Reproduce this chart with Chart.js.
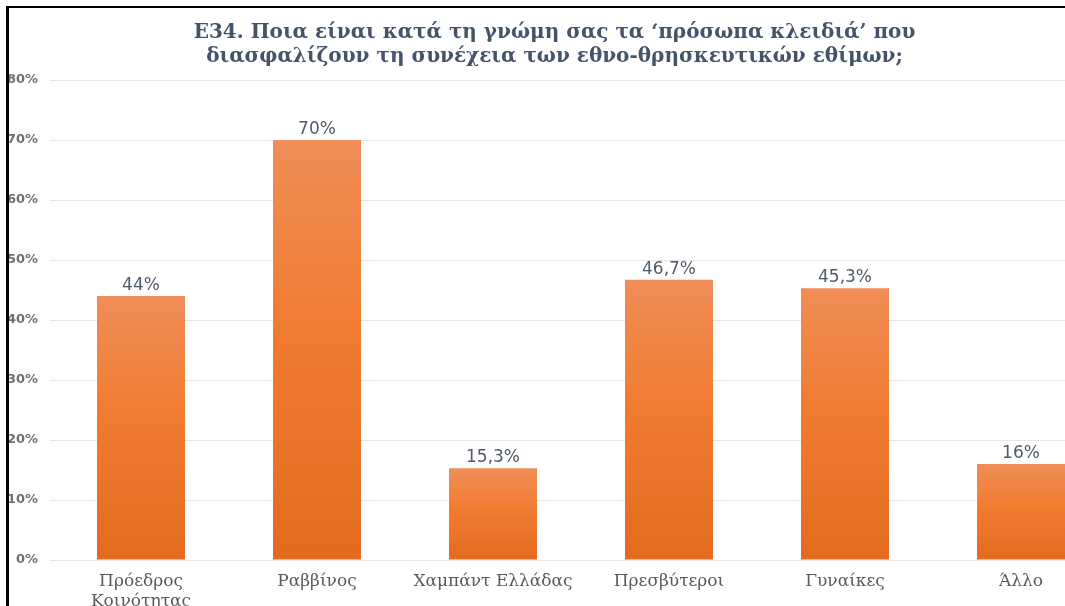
<!DOCTYPE html>
<html>
<head>
<meta charset="utf-8">
<script src="https://cdn.jsdelivr.net/npm/chart.js@4"></script>
<style>
  html, body { margin: 0; padding: 0; background: #fff; overflow: hidden; }
  #wrap { position: relative; width: 1065px; height: 606px; overflow: hidden; }
  #chart { position: absolute; left: 0; top: 0; }
  .line { position: absolute; background: #000; }
</style>
</head>
<body>
<div id="wrap">
  <canvas id="chart" width="1110" height="606"></canvas>
  <div class="line" style="left:6px; top:6px; width:1070px; height:2px;"></div>
  <div class="line" style="left:6px; top:6px; width:3px; height:600px;"></div>
</div>
<script>
// data
const titleLines = ['Ε34. Ποια είναι κατά τη γνώμη σας τα ‘πρόσωπα κλειδιά’ που',
                    'διασφαλίζουν τη συνέχεια των εθνο-θρησκευτικών εθίμων;'];
const categories = [['Πρόεδρος', 'Κοινότητας'], 'Ραββίνος', 'Χαμπάντ Ελλάδας', 'Πρεσβύτεροι', 'Γυναίκες', 'Άλλο'];
const values     = [44, 70, 15.3, 46.7, 45.3, 16];
const yTicks     = [0, 10, 20, 30, 40, 50, 60, 70, 80];

const fmt = v => String(v).replace('.', ',') + '%';

// per-bar vertical gradient, lighter at the top
function barFill(c) {
  const y = c.chart.scales.y;
  if (!c.chart.chartArea || !y || c.type !== 'data') return '#f07c30';
  const top = y.getPixelForValue(values[c.dataIndex]);
  const base = y.getPixelForValue(0);
  if (!isFinite(top) || !isFinite(base)) return '#f07c30';
  const g = c.chart.ctx.createLinearGradient(0, top, 0, base);
  g.addColorStop(0, '#f08d58');
  g.addColorStop(0.45, '#f07c30');
  g.addColorStop(1, '#e46b1e');
  return g;
}

// value labels above bars
const valueLabels = {
  id: 'valueLabels',
  afterDatasetsDraw(chart) {
    const ctx = chart.ctx;
    ctx.save();
    ctx.font = '17px "DejaVu Sans", sans-serif';
    ctx.fillStyle = '#505a6a';
    ctx.textAlign = 'center';
    ctx.textBaseline = 'alphabetic';
    chart.getDatasetMeta(0).data.forEach((el, i) => {
      ctx.fillText(fmt(values[i]), el.x, el.y - 6);
    });
    ctx.restore();
  }
};

new Chart(document.getElementById('chart'), {
  type: 'bar',
  data: {
    labels: categories,
    datasets: [{ data: values, backgroundColor: barFill, borderWidth: 0,
                 categoryPercentage: 1, barPercentage: 0.5 }]
  },
  options: {
    responsive: false, animation: false,
    layout: { padding: { left: 0, right: 1, top: 0, bottom: 0 } },
    plugins: {
      legend: { display: false },
      tooltip: { enabled: false },
      title: {
        display: true, text: titleLines, color: '#44546a',
        font: { family: '"DejaVu Serif", serif', size: 20, weight: 'bold', lineHeight: 1.2 },
        padding: { top: 21, bottom: 11 }
      }
    },
    scales: {
      x: {
        grid: { display: false },
        border: { display: false },
        ticks: { color: '#595959', padding: 4, maxRotation: 0, autoSkip: false,
                 font: { family: '"DejaVu Serif", serif', size: 17, lineHeight: 1.15 } },
        afterFit: s => { s.height = 46; }
      },
      y: {
        min: 0, max: 80,
        afterBuildTicks: s => { s.ticks = yTicks.map(v => ({ value: v })); },
        grid: { color: '#e6e6e6', lineWidth: 1, drawTicks: true, tickLength: 3 },
        border: { display: false },
        ticks: { color: '#707070', padding: 12, callback: v => v + '%',
                 font: { family: '"DejaVu Sans", sans-serif', size: 13, weight: 'bold' } },
        afterFit: s => { s.width = 53; }
      }
    }
  },
  plugins: [valueLabels]
});
</script>
</body>
</html>
